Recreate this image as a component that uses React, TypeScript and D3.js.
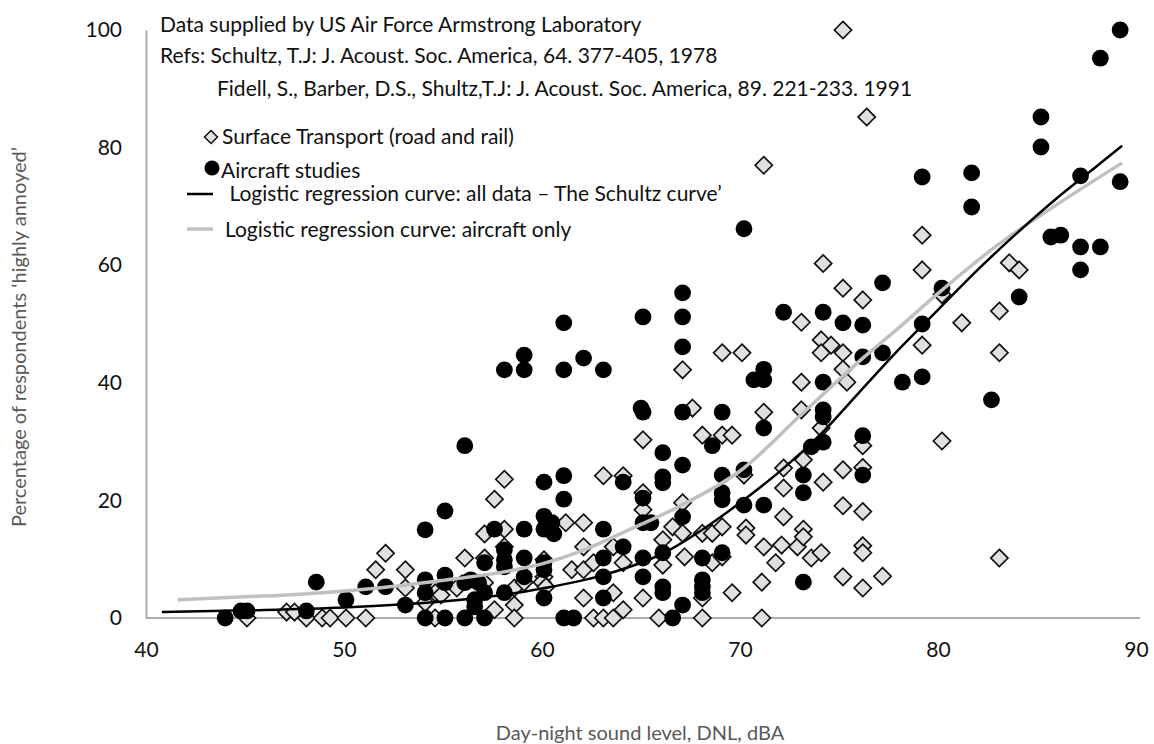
import React, { useEffect, useRef } from 'react';
import * as d3 from 'd3';

// Aircraft studies: [DNL dBA, % highly annoyed]
const aircraftPoints: [number, number][] = [
  [44.0, 0], [44.8, 1.2], [45.1, 1.2], [48.1, 1.2], [48.6, 6.1], [50.1, 3.1],
  [51.1, 5.3], [52.1, 5.3], [53.1, 2.2], [54.1, 15.0], [54.1, 6.5], [54.1, 4.3],
  [54.1, 0], [55.1, 18.2], [55.1, 7.3], [55.1, 6.0], [55.1, 0], [56.1, 29.3],
  [56.1, 6.0], [56.4, 6.5], [56.1, 0], [56.8, 6.0], [57.1, 4.3], [56.6, 3.1],
  [56.6, 1.9], [57.1, 0], [57.1, 9.4], [57.6, 15.1], [58.1, 42.2], [59.1, 44.7],
  [59.1, 42.2], [58.1, 11.6], [58.1, 9.9], [58.1, 8.7], [58.1, 4.3], [59.1, 15.1],
  [59.1, 10.2], [59.1, 7.0], [60.1, 23.1], [60.1, 17.3], [60.1, 15.1], [60.5, 16.2],
  [60.6, 14.3], [60.1, 9.4], [60.1, 8.2], [60.1, 3.4], [61.1, 42.2], [61.1, 50.2],
  [61.1, 24.2], [61.1, 20.2], [61.1, 0], [61.6, 0], [62.1, 44.2], [63.1, 42.2],
  [63.1, 15.1], [63.1, 10.2], [63.1, 7.0], [63.1, 3.4], [64.1, 23.1], [64.1, 12.1],
  [65.1, 51.2], [65.0, 35.7], [65.1, 35.0], [65.1, 20.4], [65.1, 16.2], [65.5, 16.2],
  [65.1, 10.2], [65.1, 7.0], [66.1, 28.1], [66.1, 24.0], [66.1, 23.0], [66.1, 11.1],
  [66.1, 5.3], [66.1, 4.3], [66.6, 0], [67.1, 55.3], [67.1, 51.2], [67.1, 46.1],
  [67.1, 35.0], [67.1, 26.0], [67.1, 17.2], [67.1, 2.2], [68.1, 10.2], [68.1, 6.5],
  [68.1, 5.3], [68.1, 4.3], [68.6, 29.3], [69.1, 35.0], [69.1, 24.3], [69.1, 21.3],
  [69.1, 20.1], [69.1, 11.1], [70.2, 66.2], [70.2, 25.2], [70.2, 19.2], [70.7, 40.5],
  [71.2, 40.5], [71.2, 42.3], [71.2, 32.3], [71.2, 19.2], [72.2, 52.0], [73.2, 24.3],
  [73.2, 21.3], [73.2, 6.1], [73.6, 29.1], [74.2, 29.9], [74.2, 52.0], [74.2, 40.1],
  [74.2, 35.4], [74.2, 34.2], [75.2, 50.2], [76.2, 49.8], [76.2, 44.4], [76.2, 31.0],
  [76.2, 24.3], [77.2, 57.0], [77.2, 45.1], [78.2, 40.1], [79.2, 41.0], [79.2, 75.0],
  [79.2, 50.0], [80.2, 56.1], [81.7, 75.7], [81.7, 69.9], [82.7, 37.1], [84.1, 54.6],
  [85.2, 85.2], [85.2, 80.1], [85.7, 64.8], [86.2, 65.1], [87.2, 75.2], [87.2, 63.1],
  [87.2, 59.2], [88.2, 95.2], [88.2, 63.1], [89.2, 100], [89.2, 74.2],
];

// Surface transport (road and rail)
const surfacePoints: [number, number][] = [
  [45.1, 0], [47.1, 1.0], [47.5, 1.0], [48.1, 0], [48.9, 0], [49.3, 0], [50.1, 0],
  [51.1, 0], [51.6, 8.2], [52.1, 11.0], [53.1, 8.2], [53.1, 5.1], [54.1, 2.6],
  [54.6, 4.3], [54.9, 3.9], [54.6, 0], [55.7, 5.1], [56.1, 10.2], [57.1, 14.3],
  [57.1, 10.2], [57.1, 6.0], [57.6, 20.2], [57.6, 1.4], [58.1, 23.6], [58.1, 15.1],
  [58.1, 12.1], [58.6, 5.1], [58.6, 2.2], [58.6, 0], [59.1, 6.1], [60.1, 9.9],
  [60.1, 7.0], [60.0, 6.1], [60.2, 5.3], [61.2, 16.2], [61.5, 8.2], [62.1, 16.2],
  [62.1, 12.1], [62.1, 8.2], [62.6, 9.4], [62.1, 3.4], [62.6, 0], [63.1, 24.2],
  [63.1, 0], [63.6, 12.1], [63.6, 4.3], [63.6, 0], [64.1, 24.2], [64.1, 9.4],
  [64.1, 1.4], [65.1, 30.3], [65.1, 21.3], [65.1, 18.4], [65.1, 3.4], [65.9, 0],
  [66.1, 13.3], [66.6, 15.5], [66.1, 9.0], [67.1, 42.2], [67.1, 19.6], [67.1, 14.4],
  [67.2, 10.4], [67.6, 35.7], [68.1, 31.1], [68.1, 14.4], [68.1, 3.4], [68.1, 0],
  [68.6, 14.4], [68.6, 9.4], [69.1, 45.1], [69.1, 31.1], [69.1, 15.5], [69.1, 10.4],
  [69.6, 31.1], [69.6, 4.3], [70.1, 45.1], [70.2, 24.3], [70.3, 15.3], [70.3, 14.1],
  [71.2, 77.0], [71.2, 35.0], [71.2, 12.1], [71.1, 6.1], [71.1, 0], [71.8, 9.4],
  [72.1, 12.4], [72.2, 25.5], [72.2, 22.1], [72.2, 17.2], [72.9, 12.1], [73.1, 50.3],
  [73.1, 40.1], [73.1, 35.4], [73.2, 26.9], [73.2, 15.1], [73.2, 13.8], [73.6, 10.2],
  [74.1, 47.3], [74.6, 46.4], [74.1, 45.1], [74.2, 60.3], [74.1, 32.3], [74.2, 23.1],
  [74.1, 11.1], [75.2, 100], [75.2, 56.1], [75.2, 45.1], [75.2, 42.3], [75.4, 40.1],
  [75.2, 25.2], [75.2, 19.1], [75.2, 7.0], [76.2, 54.1], [76.4, 85.2], [76.2, 29.3],
  [76.2, 25.6], [76.2, 18.1], [76.2, 12.3], [76.2, 11.1], [76.2, 5.1], [77.2, 7.1],
  [79.2, 65.1], [79.2, 59.2], [79.2, 46.4], [80.2, 55.0], [80.2, 30.1], [81.2, 50.2],
  [83.1, 52.2], [83.1, 45.1], [83.1, 10.2], [83.6, 60.4], [84.1, 59.2],
];

// logistic regression curves
const schultzCurve: [number, number][] = [
  [40.8, 1.0], [45, 1.3], [50, 1.8], [55, 2.8], [58, 3.9], [60, 5.0], [63, 7.2],
  [66, 10.8], [68, 14.8], [70, 19.6], [72, 24.9], [74, 31.0], [76, 38.3], [78, 45.6],
  [80, 52.4], [82, 59.2], [84, 65.5], [86, 71.4], [88, 76.8], [89.3, 80.3],
];
const aircraftCurve: [number, number][] = [
  [41.6, 3.1], [45, 3.6], [48, 4.1], [52, 5.2], [55, 6.4], [58, 7.8], [60, 9.2],
  [62, 11.4], [64, 14.4], [67, 19.1], [70, 25.0], [73, 34.3], [76, 43.6], [78, 49.3],
  [80, 55.2], [83, 63.4], [86, 70.3], [89.3, 77.4],
];

const xTicks = [40, 50, 60, 70, 80, 90];
const yTicks = [0, 20, 40, 60, 80, 100];

const notes = [
  'Data supplied by US Air Force Armstrong Laboratory',
  'Refs: Schultz, T.J: J. Acoust. Soc. America, 64. 377-405, 1978',
  'Fidell, S., Barber, D.S., Shultz,T.J: J. Acoust. Soc. America, 89. 221-233. 1991',
];
const legendLabels = [
  'Surface Transport (road and rail)',
  'Aircraft studies',
  ' Logistic regression curve: all data \u2013 The Schultz curve\u2019',
  'Logistic regression curve: aircraft only',
];

const diamond = (h: number) => `M0,${-h}L${h},0L0,${h}L${-h},0Z`;

const App = () => {
  const svgRef = useRef<SVGSVGElement>(null);

  useEffect(() => {
    const svg = d3.select(svgRef.current);
    svg.selectAll('*').remove();

    const width = 1154;
    const height = 744;
    const font = 'Lato, "Open Sans", sans-serif';

    const x = d3.scaleLinear().domain([40, 90]).range([146, 1136]);
    const y = d3.scaleLinear().domain([0, 100]).range([618, 30]);

    svg.append('rect').attr('width', width).attr('height', height).attr('fill', '#fff');

    // axes
    const gx = svg.append('g')
      .attr('transform', `translate(0,${y(0)})`)
      .call(d3.axisBottom(x).tickValues(xTicks).tickSize(0).tickPadding(24));
    gx.select('.domain').attr('d', `M${x(40)},0H1140`).attr('stroke', '#adadad').attr('stroke-width', 2);
    gx.selectAll('text').attr('font-family', font).attr('font-size', 21).attr('fill', '#111');

    const gy = svg.append('g')
      .attr('transform', `translate(${x(40)},0)`)
      .call(d3.axisLeft(y).tickValues(yTicks).tickSize(0).tickPadding(24));
    gy.select('.domain').attr('stroke', '#adadad').attr('stroke-width', 2);
    gy.selectAll('text').attr('font-family', font).attr('font-size', 21).attr('fill', '#111');

    // axis titles
    svg.append('text')
      .attr('x', 640).attr('y', 740)
      .attr('text-anchor', 'middle')
      .attr('font-family', font).attr('font-size', 20).attr('fill', '#595959')
      .text('Day-night sound level, DNL, dBA');
    svg.append('text')
      .attr('transform', 'translate(26,337) rotate(-90)')
      .attr('text-anchor', 'middle')
      .attr('font-family', font).attr('font-size', 20).attr('fill', '#595959')
      .text('Percentage of respondents \u2018highly annoyed\u2019');

    // markers
    const plot = svg.append('g');
    plot.selectAll('path.surface')
      .data(surfacePoints)
      .join('path')
      .attr('class', 'surface')
      .attr('transform', d => `translate(${x(d[0])},${y(d[1])})`)
      .attr('d', diamond(8.6))
      .attr('fill', '#e0e0e0')
      .attr('stroke', '#111')
      .attr('stroke-width', 1.7);

    plot.selectAll('circle')
      .data(aircraftPoints)
      .join('circle')
      .attr('cx', d => x(d[0]))
      .attr('cy', d => y(d[1]))
      .attr('r', 8.4)
      .attr('fill', '#000');

    // curves
    const line = d3.line<[number, number]>()
      .x(d => x(d[0]))
      .y(d => y(d[1]))
      .curve(d3.curveCatmullRom.alpha(0.5));
    svg.append('path').attr('d', line(aircraftCurve)).attr('fill', 'none')
      .attr('stroke', '#c0c0c0').attr('stroke-width', 3.5);
    svg.append('path').attr('d', line(schultzCurve)).attr('fill', 'none')
      .attr('stroke', '#000').attr('stroke-width', 2.5);

    // notes
    const noteX = [160, 160, 217];
    const noteY = [32, 63, 96];
    notes.forEach((t, i) => {
      svg.append('text')
        .attr('x', noteX[i]).attr('y', noteY[i])
        .attr('font-family', font).attr('font-size', 21).attr('fill', '#111')
        .text(t);
    });

    // legend
    const lg = svg.append('g').attr('font-family', font).attr('font-size', 21).attr('fill', '#111');
    lg.append('path').attr('transform', 'translate(211,137)').attr('d', diamond(6.5))
      .attr('fill', '#e0e0e0').attr('stroke', '#111').attr('stroke-width', 1.5);
    lg.append('text').attr('x', 222).attr('y', 144).text(legendLabels[0]);
    lg.append('circle').attr('cx', 212).attr('cy', 168).attr('r', 7.5).attr('fill', '#000');
    lg.append('text').attr('x', 221).attr('y', 178).text(legendLabels[1]);
    lg.append('line').attr('x1', 187).attr('x2', 213).attr('y1', 194).attr('y2', 194)
      .attr('stroke', '#000').attr('stroke-width', 2.5);
    lg.append('text').attr('x', 224).attr('y', 201).attr('xml:space', 'preserve').text(legendLabels[2]);
    lg.append('line').attr('x1', 187).attr('x2', 213).attr('y1', 229).attr('y2', 229)
      .attr('stroke', '#c0c0c0').attr('stroke-width', 3.5);
    lg.append('text').attr('x', 225).attr('y', 237).text(legendLabels[3]);
  }, []);

  return (
    <svg
      ref={svgRef}
      width={1154}
      height={744}
      style={{ position: 'absolute', left: 0, top: 0 }}
    />
  );
};

export default App;
